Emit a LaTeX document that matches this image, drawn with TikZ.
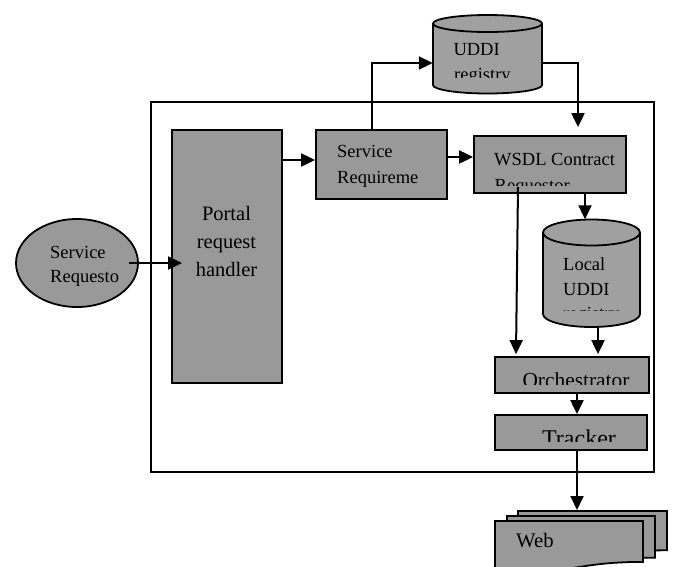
\documentclass[tikz,border=0pt]{standalone}
\usepackage{fontspec}
\setmainfont{Liberation Serif}
\usetikzlibrary{shapes.geometric,arrows.meta,calc}
\definecolor{boxgray}{RGB}{153,153,153}
\definecolor{cylgray}{RGB}{160,160,160}

% database drum: #1 left, #2 right, #3 top centre y, #4 bottom centre y, #5 end radius
\newcommand\drawdrum[5]{%
  \pgfmathsetmacro\drx{(#2-#1)/2}\pgfmathsetmacro\dcx{(#1+#2)/2}%
  \filldraw[drum] (\dcx,#4) ellipse ({\drx} and #5);
  \fill[cylgray] (#1,#3) rectangle (#2,#4);
  \draw[drum] (#1,#3) -- (#1,#4) (#2,#3) -- (#2,#4);
  \filldraw[drum] (\dcx,#3) ellipse ({\drx} and #5);
}

\begin{document}
\begin{tikzpicture}[x=1pt,y=-1pt,
  box/.style={draw, line width=1.8pt, fill=boxgray, inner sep=0},
  drum/.style={draw, line width=1.8pt, fill=cylgray},
  doc/.style={draw, line width=1.8pt, fill=boxgray},
  conn/.style={line width=2pt, -{Triangle[length=14pt,width=13pt]}},
  holder/.style={inner sep=0},
  lbl/.style={inner sep=0, anchor=base west, font=\fontsize{18.5}{22}\selectfont},
  clbl/.style={inner sep=0, anchor=base},
]
\useasboundingbox (0,0) rectangle (675,566);
\clip (0,0) rectangle (675,566);

% portal boundary
\node[draw, line width=1.6pt, minimum width=503, minimum height=370, inner sep=0] (frame) at (402.5,287) {};

% requester
\node[draw, ellipse, line width=1.8pt, fill=boxgray, minimum width=122, minimum height=88, inner sep=0] (req) at (77,263) {};
\node[lbl] (reqa) at (50,258.3) {Service};
\node[lbl] (reqb) at (50,282.7) {Requesto};

% portal request handler
\node[box, minimum width=110, minimum height=253] (portal) at (227,256.5) {};
\node[clbl, font=\fontsize{20.5}{24}\selectfont] (portala) at (226.5,220) {Portal};
\node[clbl, font=\fontsize{20.5}{24}\selectfont] (portalb) at (226.5,248.3) {request};
\node[clbl, font=\fontsize{20.5}{24}\selectfont] (portalc) at (226.5,276.7) {handler};

% service requirement
\node[box, minimum width=131, minimum height=69] (sreq) at (381.5,164.5) {};
\node[lbl] (sreqa) at (337,157.7) {Service};
\node[lbl] (sreqb) at (337,183.3) {Requireme};

% WSDL contract requestor
\node[box, minimum width=152, minimum height=57] (wsdl) at (550,164.5) {};
\node[lbl] (wsdla) at (494,165) {WSDL Contract};
\begin{scope}
  \clip (474,136) rectangle (626,185);
  \node[lbl] (wsdlb) at (494.5,191) {Requestor};
\end{scope}

% UDDI registry
\drawdrum{433}{542}{23.5}{85}{8.5}
\node[holder, minimum width=109, minimum height=79] (uddi) at (487.5,55.5) {};
\node[lbl] (uddia) at (453.3,55) {UDDI};
\begin{scope}
  \clip (433,60) rectangle (542,77.5);
  \node[lbl] (uddib) at (454,80) {registry};
\end{scope}

% local UDDI registry
\drawdrum{543}{640}{232.5}{314}{13}
\node[holder, minimum width=97, minimum height=107.5] (local) at (591.5,273.25) {};
\node[lbl] (locala) at (563,270.7) {Local};
\node[lbl] (localb) at (563,295) {UDDI};
\begin{scope}
  \clip (543,296) rectangle (640,310);
  \node[lbl] (localc) at (563,319) {registry};
\end{scope}

% orchestrator and tracker
\node[box, minimum width=154, minimum height=36] (orch) at (572,375) {};
\begin{scope}
  \clip (495,357) rectangle (649,384.3);
  \node[clbl, font=\fontsize{21.4}{24}\selectfont] (orcha) at (576,387) {Orchestrator};
\end{scope}
\node[box, minimum width=152, minimum height=35] (track) at (571,432.5) {};
\begin{scope}
  \clip (495,415) rectangle (647,441.7);
  \node[clbl, font=\fontsize{24}{26}\selectfont] (tracka) at (579,446.6) {Tracker};
\end{scope}

% web documents
\filldraw[doc] (518,511) -- (667,511) -- (667,550.3) .. controls (592.5,550.3) and (592.5,565.2) .. (518,556.8) -- cycle;
\filldraw[doc] (507,516) -- (655,516) -- (655,557.7) .. controls (581,557.7) and (581,573.6) .. (507,564.6) -- cycle;
\filldraw[doc] (495,521) -- (643,521) -- (643,561.9) .. controls (569,561.9) and (569,577.5) .. (495,568.6) -- cycle;
\coordinate (webtop) at (577,510);
\node[lbl, font=\fontsize{20.7}{24}\selectfont] (webtxt) at (516,547) {Web};

% connectors
\draw[conn] ([xshift=-10pt]req.east) -- ([xshift=11pt]portal.west |- req.east);
\draw[conn] (portal.east |- 0,160) -- (sreq.west |- 0,160);
\draw[conn] (sreq.east |- 0,157) -- (wsdl.west |- 0,157);
\draw[conn] (372,0 |- sreq.north) |- (uddi.west |- 0,63);
\draw[conn] (uddi.east |- 0,63) -| ($(578,0 |- wsdl.north)+(0,-8)$);
\draw[conn] (585,0 |- wsdl.south) -- (585,0 |- local.north);
\draw[conn] ($(518,0 |- wsdl.south)+(0,-7)$) -- ($(516,0 |- orch.north)+(0,-2)$);
\draw[conn] (598,0 |- local.south) -- ($(598,0 |- orch.north)+(0,-2)$);
\draw[conn] (577,0 |- orch.south) -- (577,0 |- track.north);
\draw[conn] (577,0 |- track.south) -- (webtop);
\end{tikzpicture}
\end{document}
